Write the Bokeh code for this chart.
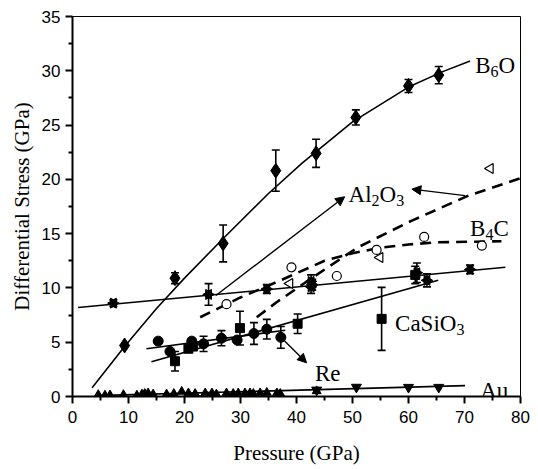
import numpy as np
from bokeh.plotting import figure
from bokeh.models import (ColumnDataSource, Whisker, TeeHead, Arrow, NormalHead,
                          Range1d, FixedTicker)
from bokeh.core.properties import value
from bokeh.embed import file_html
from bokeh.resources import INLINE

# ---------------- data ----------------
# B6O : filled diamonds + solid fit curve
b6o_p = [9.3, 18.3, 26.9, 36.3, 43.5, 50.6, 60.0, 65.4]
b6o_s = [4.7, 10.9, 14.1, 20.8, 22.4, 25.7, 28.6, 29.6]
b6o_err = [0.0, 0.5, 1.7, 1.9, 1.3, 0.7, 0.6, 0.8]
b6o_fit_p = [3.5, 9.3, 15, 20, 27, 35, 41, 50, 60, 66, 71]
b6o_fit_s = [0.8, 4.6, 8.1, 10.9, 14.6, 18.7, 21.5, 25.3, 28.5, 29.9, 30.9]

# Al2O3 (filled bow-tie symbols) + solid fit line
al2o3_p = [7.3, 24.3, 34.7, 42.6, 42.6, 42.8, 61.5, 63.3, 71.0]
al2o3_s = [8.6, 9.4, 9.9, 10.1, 10.6, 10.3, 11.4, 10.7, 11.7]
al2o3_err = [0.3, 1.0, 0.4, 0.6, 0.6, 0.5, 0.9, 0.6, 0.4]
al2o3_fit_p = [1.0, 77.3]
al2o3_fit_s = [8.2, 11.9]

# Al2O3 (open left triangles) + dashed fit curve
al2o3b_p = [38.8, 54.9, 74.6]
al2o3b_s = [10.4, 12.8, 21.0]
al2o3b_fit_p = [32.9, 36.5, 43, 51, 60.6, 70.7, 80]
al2o3b_fit_s = [7.3, 8.7, 11.0, 13.75, 16.2, 18.5, 20.1]

# B4C : open circles + dashed fit curve
b4c_p = [27.5, 39.1, 47.2, 54.3, 62.8, 73.1]
b4c_s = [8.5, 11.9, 11.1, 13.5, 14.7, 13.9]
b4c_fit_p = [22.8, 29.9, 37.4, 45, 50, 55, 60, 65, 76.6]
b4c_fit_s = [7.3, 9.1, 10.75, 12.5, 13.2, 13.7, 14.0, 14.2, 14.3]

# Re : filled circles + solid fit line
re_p = [15.3, 17.4, 21.3, 23.4, 26.6, 29.4, 32.4, 34.7, 37.2]
re_s = [5.1, 4.15, 5.1, 4.85, 5.37, 5.2, 5.8, 6.2, 5.45]
re_err = [0.0, 0.0, 0.0, 0.7, 0.7, 0.0, 1.0, 0.9, 1.0]
re_fit_p = [13.2, 38.0]
re_fit_s = [4.4, 6.1]

# CaSiO3 : filled squares + solid fit line
casio3_p = [18.3, 20.7, 21.5, 29.9, 40.2, 55.2, 61.2]
casio3_s = [3.25, 4.4, 4.6, 6.3, 6.7, 7.15, 11.2]
casio3_err = [0.9, 0.0, 0.0, 1.55, 0.9, 2.9, 0.8]
casio3_fit_p = [14.1, 65.3]
casio3_fit_s = [3.2, 10.7]

# Au : filled up/down triangles + solid fit line
au_up_p = [4.6, 5.8, 6.7, 9.1, 11.5, 12.4, 12.9, 13.5, 14.4, 16.8, 18.1, 19.5,
           20.7, 21.9, 23.7, 24.9, 25.7, 27.5, 28.7, 29.6, 30.8, 31.7, 32.3,
           33.5, 34.7, 36.5, 37.1, 43.6]
au_up_s = [0.15, 0.1, 0.12, 0.15, 0.1, 0.2, 0.25, 0.3, 0.2, 0.2, 0.25, 0.45,
           0.3, 0.25, 0.3, 0.3, 0.2, 0.3, 0.25, 0.3, 0.3, 0.3, 0.25,
           0.3, 0.35, 0.3, 0.25, 0.5]
au_dn_p = [43.6, 50.7, 60.0, 65.4]
au_dn_s = [0.6, 0.86, 0.85, 0.85]
au_fit_p = [4.0, 70.1]
au_fit_s = [0.08, 1.0]

# text labels ("_d" marks a subscript digit) and their anchors (left, baseline)
label_text = ["B_6O", "Al_2O_3", "B_4C", "CaSiO_3", "Re", "Au"]
label_p = [71.9, 49.3, 71.0, 57.6, 43.3, 72.8]
label_s = [30.5, 18.6, 15.45, 6.7, 2.1, 0.55]

# pointer arrows (start -> head)
arrow_p0 = [25.6, 70.1, 37.2]
arrow_s0 = [9.3, 18.5, 5.45]
arrow_p1 = [48.6, 60.6, 41.8]
arrow_s1 = [18.4, 19.1, 3.1]

x_ticks = [0, 10, 20, 30, 40, 50, 60, 70, 80]
y_ticks = [0, 5, 10, 15, 20, 25, 30, 35]

# ---------------- figure ----------------
SERIF = "Liberation Serif"
SANS = "Liberation Sans"

p = figure(width=538, height=469, output_backend="svg", toolbar_location=None,
           x_range=Range1d(0, 80), y_range=Range1d(0, 35),
           min_border_left=72, min_border_right=18, min_border_top=16,
           min_border_bottom=73)
p.xgrid.visible = False
p.ygrid.visible = False
p.outline_line_color = "black"
p.outline_line_width = 1
p.background_fill_color = "white"
p.border_fill_color = "white"

p.xaxis.ticker = FixedTicker(ticks=x_ticks,
                             minor_ticks=[t + 5 for t in x_ticks[:-1]])
p.yaxis.ticker = FixedTicker(ticks=y_ticks,
                             minor_ticks=[t + 2.5 for t in y_ticks[:-1]])
for ax in (p.xaxis, p.yaxis):
    ax.axis_line_width = 2
    ax.major_tick_line_width = 2
    ax.minor_tick_line_width = 2
    ax.major_tick_in = 0
    ax.major_tick_out = 7
    ax.minor_tick_in = 0
    ax.minor_tick_out = 4
    ax.major_label_text_font = SANS
    ax.major_label_text_font_size = "17px"
    ax.major_label_text_color = "black"
    ax.axis_label_text_font = SERIF
    ax.axis_label_text_font_size = "21px"
    ax.axis_label_text_font_style = "normal"
    ax.axis_label_text_color = "black"
p.xaxis.axis_label = "Pressure (GPa)"
p.yaxis.axis_label = "Differential Stress (GPa)"
p.xaxis.major_label_standoff = 7
p.yaxis.major_label_standoff = 5
p.xaxis.axis_label_standoff = 15
p.yaxis.axis_label_standoff = 5


def errbars(px, sy, err, head=8):
    xs = [a for a, e in zip(px, err) if e > 0]
    ys = [b for b, e in zip(sy, err) if e > 0]
    es = [e for e in err if e > 0]
    src = ColumnDataSource(dict(x=xs, lo=[y - e for y, e in zip(ys, es)],
                                hi=[y + e for y, e in zip(ys, es)]))
    w = Whisker(base="x", lower="lo", upper="hi", source=src,
                dimension="height", line_width=1.6, line_color="black",
                upper_head=TeeHead(size=head, line_width=1.6, line_color="black"),
                lower_head=TeeHead(size=head, line_width=1.6, line_color="black"))
    p.add_layout(w)


# fit lines
p.line(b6o_fit_p, b6o_fit_s, line_color="black", line_width=1.6)
p.line(al2o3_fit_p, al2o3_fit_s, line_color="black", line_width=1.6)
p.line(re_fit_p, re_fit_s, line_color="black", line_width=1.6)
p.line(casio3_fit_p, casio3_fit_s, line_color="black", line_width=1.6)
p.line(au_fit_p, au_fit_s, line_color="black", line_width=1.6)
p.line(al2o3b_fit_p, al2o3b_fit_s, line_color="black", line_width=2.6,
       line_dash="11 7")
p.line(b4c_fit_p, b4c_fit_s, line_color="black", line_width=2.6,
       line_dash="11 7")

# error bars
errbars(b6o_p, b6o_s, b6o_err)
errbars(al2o3_p, al2o3_s, al2o3_err)
errbars(re_p, re_s, re_err)
errbars(casio3_p, casio3_s, casio3_err)
errbars(au_dn_p, au_dn_s, [0.15] * len(au_dn_p), head=5)

# markers
p.scatter(b6o_p, b6o_s, marker="diamond", size=15, fill_color="black",
          line_color="black")
p.scatter(al2o3_p, al2o3_s, marker="triangle", angle=np.pi / 2, size=10,
          fill_color="black", line_color="black")
p.scatter(al2o3_p, al2o3_s, marker="triangle", angle=-np.pi / 2, size=10,
          fill_color="black", line_color="black")
p.scatter(al2o3b_p, al2o3b_s, marker="triangle", angle=np.pi / 2, size=10,
          fill_color="white", line_color="black", line_width=1.2)
p.scatter(b4c_p, b4c_s, marker="circle", size=9, fill_color="white",
          line_color="black", line_width=1.2)
p.scatter(re_p, re_s, marker="circle", size=10, fill_color="black",
          line_color="black")
p.scatter(casio3_p, casio3_s, marker="square", size=9, fill_color="black",
          line_color="black")
p.scatter(au_up_p, au_up_s, marker="triangle", size=9, fill_color="black",
          line_color="black")
p.scatter(au_dn_p, au_dn_s, marker="inverted_triangle", size=10,
          fill_color="black", line_color="black")

# arrows
asrc = ColumnDataSource(dict(x0=arrow_p0, y0=arrow_s0, x1=arrow_p1, y1=arrow_s1))
p.add_layout(Arrow(x_start="x0", y_start="y0", x_end="x1", y_end="y1",
                   source=asrc, line_width=1.4, line_color="black",
                   end=NormalHead(size=9, fill_color="black", line_color="black")))

# labels with subscripts
em = {"A": 0.722, "B": 0.667, "C": 0.667, "O": 0.722, "S": 0.556, "R": 0.667,
      "l": 0.278, "a": 0.444, "i": 0.278, "e": 0.444, "u": 0.5}
MAIN, SUB = 23, 16
tx, ty, tt, txo, tyo, tfs = [], [], [], [], [], []
for txt, lp, ls in zip(label_text, label_p, label_s):
    off = 0.0
    i = 0
    while i < len(txt):
        if txt[i] == "_":
            ch, sub = txt[i + 1], True
            i += 2
        else:
            ch, sub = txt[i], False
            i += 1
        tx.append(lp)
        ty.append(ls)
        tt.append(ch)
        txo.append(off)
        tyo.append(6 if sub else 0)
        tfs.append(f"{SUB}px" if sub else f"{MAIN}px")
        off += (0.5 * SUB) if sub else em.get(ch, 0.5) * MAIN
lsrc = ColumnDataSource(dict(x=tx, y=ty, t=tt, xo=txo, yo=tyo, fs=tfs))
p.text(x="x", y="y", text="t", x_offset="xo", y_offset="yo",
       text_font_size="fs", text_font=value(SERIF), text_color="black",
       text_baseline="alphabetic", text_align="left", source=lsrc)

open("out.html", "w").write(file_html(p, INLINE))
